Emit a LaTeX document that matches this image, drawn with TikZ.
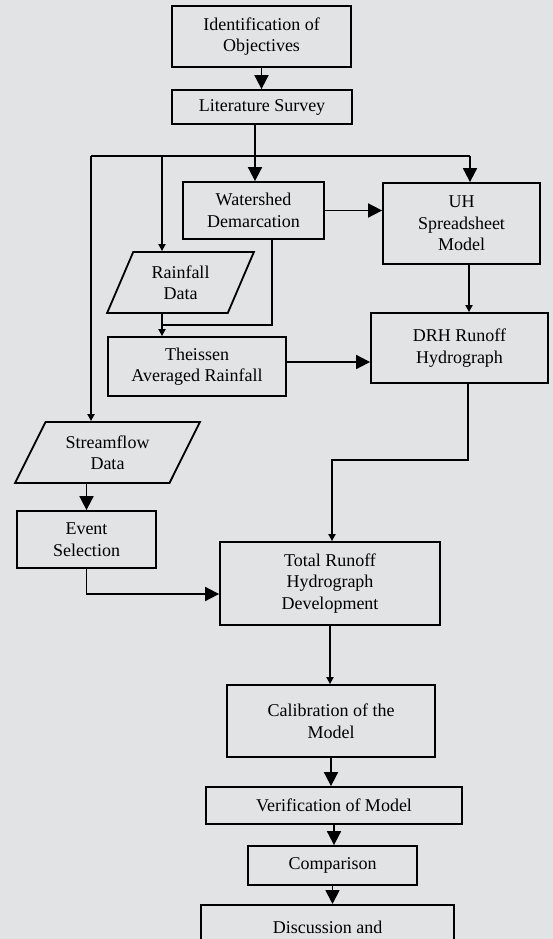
\documentclass[tikz,border=0pt]{standalone}
\usepackage{fontspec}
\setmainfont{Liberation Serif}
\usetikzlibrary{arrows.meta,shapes.geometric}

\definecolor{paper}{RGB}{226,227,229}

\begin{document}
\begin{tikzpicture}[x=1pt,y=-1pt,line width=1.8pt,
    box/.style={draw,rectangle,align=center,inner sep=0pt,
      font=\fontsize{18}{21.5}\selectfont},
    data/.style={box,trapezium,trapezium stretches=true},
    arr/.style={-{Triangle[length=14pt,width=14pt]}},
    sarr/.style={-{Triangle[length=7pt,width=7pt]}}]

    \fill[paper] (0,0) rectangle (553,939);
    \useasboundingbox (0,0) rectangle (553,939);
    \clip (0,0) rectangle (553,939);

    \node[box,minimum width=179,minimum height=61] (ident) at (261.5,36.5) {Identification of\\Objectives};
    \node[box,minimum width=180,minimum height=34] (lit) at (262,107) {Literature Survey};
    \node[box,minimum width=141,minimum height=57] (water) at (253.5,210.5) {Watershed\\Demarcation};
    \node[box,minimum width=157,minimum height=81] (uh) at (461.5,223.5) {UH\\Spreadsheet\\Model};
    \node[data,trapezium left angle=65,trapezium right angle=115,
        minimum width=147,minimum height=61] (rain) at (180.5,282.5) {Rainfall\\Data};
    \node[box,minimum width=178,minimum height=59] (theis) at (197,366.5) {Theissen\\Averaged Rainfall};
    \node[box,minimum width=177,minimum height=70] (drh) at (459.5,348) {DRH Runoff\\Hydrograph};
    \node[data,trapezium left angle=59,trapezium right angle=121,
        minimum width=185,minimum height=61] (stream) at (107.5,452.5) {Streamflow\\Data};
    \node[box,minimum width=139,minimum height=57] (event) at (86.5,539.5) {Event\\Selection};
    \node[box,minimum width=220,minimum height=83] (total) at (330,583.5) {Total Runoff\\Hydrograph\\Development};
    \node[box,minimum width=208,minimum height=72] (calib) at (331,721) {Calibration of the\\Model};
    \node[box,minimum width=256,minimum height=37] (verif) at (334,805.5) {Verification of Model};
    \node[box,minimum width=169,minimum height=39] (comp) at (332.5,865.5) {Comparison};
    \node[box,minimum width=253,minimum height=76,text depth=31pt,anchor=north] (disc) at (327.5,904) {Discussion and};

    \coordinate (split) at (255,156);
    \coordinate (left) at (91,156);
    \coordinate (mid) at (162,156);
    \coordinate (right) at (470,156);
    \coordinate (join) at (162,325);
    \coordinate (bend) at (332,460);

    \draw[arr] (ident.south) -- (ident.south |- lit.north);
    \draw (split |- lit.south) -- (split);
    \draw (left) -- (right);
    \draw[arr] (split) -- (split |- water.north);
    \draw[arr] (right) -- (right |- uh.north);
    \draw[sarr] (mid) -- (mid |- rain.north);
    \draw[sarr] (left) -- (left |- stream.north);
    \draw[arr] (water.east) -- (water.east -| uh.west);
    \draw ([xshift=18.5pt]water.south) |- (join);
    \draw[sarr] (mid |- rain.south) -- (mid |- theis.north);
    \draw[arr] ([yshift=4.5pt]theis.east) -- ([yshift=4.5pt]theis.east -| drh.west);
    \draw[sarr] ([xshift=7.5pt]uh.south) -- ([xshift=7.5pt]uh.south |- drh.north);
    \draw[sarr] ([xshift=8.5pt]drh.south) |- (bend) -- (bend |- total.north);
    \draw[arr] (stream.south -| event.north) -- (event.north);
    \draw[arr] (event.south) |- ([yshift=-10.5pt]total.west);
    \draw[sarr] (total.south) -- (total.south |- calib.north);
    \draw[arr] (calib.south) -- (calib.south |- verif.north);
    \draw[arr] (verif.south) -- (verif.south |- comp.north);
    \draw[arr] (comp.south) -- (comp.south |- disc.north);
\end{tikzpicture}
\end{document}
